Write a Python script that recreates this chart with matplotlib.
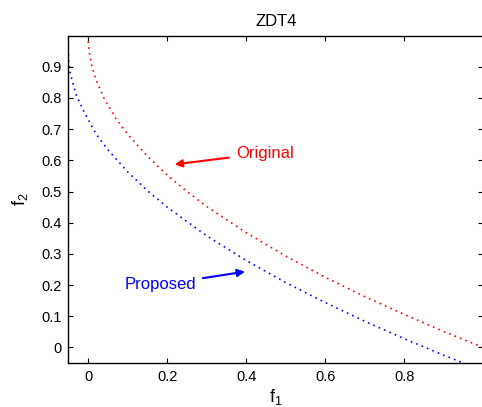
import matplotlib
matplotlib.use('Agg')
import matplotlib.pyplot as plt

plt.rcParams['font.family'] = ['Liberation Sans', 'DejaVu Sans']

# values
orig_f1 = [0.0, 0.0004, 0.0025, 0.01, 0.02, 0.04, 0.07, 0.1, 0.15, 0.2, 0.25, 0.3,
           0.4, 0.5, 0.6, 0.7, 0.8, 0.9, 1.0]
orig_f2 = [1.0, 0.98, 0.95, 0.90, 0.859, 0.80, 0.735, 0.684, 0.613, 0.553, 0.50, 0.452,
           0.368, 0.293, 0.225, 0.163, 0.106, 0.051, 0.0]

prop_f1 = [-0.0499, -0.049, -0.045, -0.04, -0.03, -0.01, 0.02, 0.05, 0.1, 0.15, 0.2,
           0.3, 0.4, 0.5, 0.6, 0.7, 0.8, 0.9, 0.95]
prop_f2 = [0.94, 0.918, 0.879, 0.855, 0.809, 0.755, 0.685, 0.634, 0.563, 0.503, 0.45,
           0.358, 0.279, 0.208, 0.144, 0.084, 0.028, -0.025, -0.05]

xticks = [0, 0.2, 0.4, 0.6, 0.8]
xticklabels = ['0', '0.2', '0.4', '0.6', '0.8']
yticks = [0, 0.1, 0.2, 0.3, 0.4, 0.5, 0.6, 0.7, 0.8, 0.9]
yticklabels = ['0', '0.1', '0.2', '0.3', '0.4', '0.5', '0.6', '0.7', '0.8', '0.9']

fig = plt.figure(figsize=(4.82, 4.07), dpi=100)
ax = fig.add_axes([0.1417, 0.108, 0.861, 0.8046])

ax.plot(orig_f1, orig_f2, color='red', lw=1.2, linestyle=(0, (1, 2.5)))
ax.plot(prop_f1, prop_f2, color='blue', lw=1.2, linestyle=(0, (1, 2.5)))

ax.set_xlim(-0.05, 1.0)
ax.set_ylim(-0.05, 1.0)
ax.set_xticks(xticks)
ax.set_xticklabels(xticklabels)
ax.set_yticks(yticks)
ax.set_yticklabels(yticklabels)
ax.tick_params(direction='in', top=True, right=True, length=3.5, width=0.8,
               labelsize=10.5, pad=5)
for s in ax.spines.values():
    s.set_linewidth(1.0)

ax.set_title('ZDT4', fontsize=12, pad=7)
ax.set_xlabel(r'$\mathregular{f_1}$', fontsize=13, labelpad=2)
ax.set_ylabel(r'$\mathregular{f_2}$', fontsize=13, labelpad=8)

ax.annotate('Original', xy=(0.219, 0.587), xytext=(0.374, 0.623),
            color='red', fontsize=12, va='center', ha='left',
            arrowprops=dict(arrowstyle='-|>', color='red', lw=1.5,
                            mutation_scale=11, shrinkA=3, shrinkB=0))
ax.annotate('Proposed', xy=(0.397, 0.243), xytext=(0.273, 0.201),
            color='blue', fontsize=12, va='center', ha='right',
            arrowprops=dict(arrowstyle='-|>', color='blue', lw=1.5,
                            mutation_scale=11, shrinkA=3, shrinkB=0))

fig.savefig('out.png', dpi=100)
